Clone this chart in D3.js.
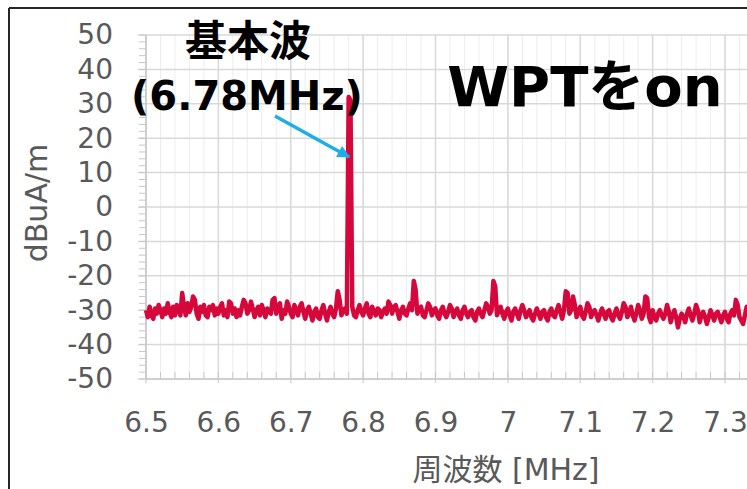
<!DOCTYPE html>
<html>
<head>
<meta charset="utf-8">
<script src="https://cdn.jsdelivr.net/npm/d3@7"></script>
<style>
  body { margin: 0; background: #fff; }
  svg { display: block; }
</style>
</head>
<body>
<div></div>
<script>
// sweep: 6.500 MHz upward, one sample every 2.5 kHz
const freqStart = 6.5;
const freqStep = 0.0025;
// measured level [dBuA/m] per sweep point, 20 points per 0.05 MHz
const levels = [
  -30, -32, -29, -31.5, -32.5, -29.5, -31, -28.5, -30, -32, -29.5, -31, -28, -30.5, -32, -29, -31.5, -28.5, -30, -31.5,
  -25, -29, -31.5, -28, -30.5, -29, -26, -27, -31, -32.5, -29, -30.5, -28.5, -31.5, -32, -29, -30, -28.5, -31.5, -29.5,
  -31, -29, -28, -31.5, -30, -32, -27.5, -28, -31, -29.5, -32, -30, -31.5, -29, -27, -28, -31, -30, -27.5, -29.5,
  -32, -30, -29, -31.5, -28.5, -30, -32, -29.5, -30.5, -31, -27, -26.5, -31, -29, -28, -32.5, -30, -31, -27.5, -29,
  -31, -32, -28.5, -30, -31.5, -29, -28, -30.5, -32.5, -30, -29, -31, -33, -30.5, -29.5, -32, -32.5, -30, -28.5, -31,
  -33, -30.5, -29, -31, -32, -29.5, -24.5, -27, -31.5, -30, -29.5, -31, 32, 31, -29, -31.5, -32, -30, -28.5, -30.5,
  -31.5, -29.5, -28, -31, -32, -29, -30.5, -31.5, -29.5, -30, -32, -30.5, -29.5, -31, -27.5, -28.5, -31, -29, -28.5, -30.5,
  -32.5, -30, -29, -31, -31.5, -29.5, -28, -30, -21.5, -24, -31, -29.5, -29, -31.5, -32, -30, -28, -29, -31.5, -30,
  -29.5, -31.5, -32.5, -30, -29, -31, -32, -30.5, -28.5, -29.5, -32, -30.5, -29.5, -31.5, -32.5, -30, -29, -31, -32, -30.5,
  -30, -32, -33, -30.5, -29.5, -31, -32, -30, -28, -29, -31, -30, -21.5, -23, -31.5, -30, -29, -31, -32.5, -30.5,
  -29.5, -31.5, -33, -30.5, -29.5, -31, -32.5, -30, -28.5, -30, -32, -31, -30, -32, -33, -31, -29.5, -31, -32.5, -30.5,
  -30, -32, -33, -30.5, -29.5, -31.5, -32, -30, -28.5, -30.5, -32.5, -30, -24.5, -25, -31, -30, -26, -28.5, -32, -30.5,
  -29, -31.5, -32.5, -30.5, -28, -29, -32, -30.5, -30, -31.5, -33, -31, -29.5, -31, -32.5, -30.5, -30, -32, -33, -31,
  -29.5, -31.5, -32.5, -30.5, -28, -29, -32, -31, -29, -31.5, -33, -31, -28.5, -30, -32.5, -31, -26, -26.5, -32, -33.5,
  -30, -32, -33, -31, -30, -31.5, -32.5, -31, -28.5, -30.5, -33.5, -31.5, -30, -32, -35, -32.5, -31, -32, -33.5, -31,
  -29.5, -31.5, -33, -31, -28.5, -30, -33.5, -31.5, -30.5, -32, -34, -32, -30, -31.5, -33, -31, -30.5, -32, -33.5, -31.5,
  -30.5, -32.5, -33.5, -31, -30, -31.5, -27, -28.5, -32, -33, -34, -31.5, -29, -30.5, -33
];
const xTicks = [6.5, 6.6, 6.7, 6.8, 6.9, 7, 7.1, 7.2, 7.3];
const yTicks = [50, 40, 30, 20, 10, 0, -10, -20, -30, -40, -50];
const xTitle = "周波数 [MHz]";
const yTitle = "dBuA/m";
const peakLabel = ["基本波", "(6.78MHz)"];
const stateLabel = "WPTをon";

const svgWidth = 747;
const svgHeight = 489;
const svg = d3
  .select("div")
  .append("svg")
  .attr("width", svgWidth)
  .attr("height", svgHeight);

//scales
const xScale = d3.scaleLinear().domain([6.5, 7.3]).range([146, 725]);
const yScale = d3.scaleLinear().domain([-50, 50]).range([379, 35]);
const xMax = xScale.invert(svgWidth);

// outer frame
svg.append("line").attr("x1", 9).attr("x2", svgWidth).attr("y1", 8).attr("y2", 8)
  .attr("stroke", "#262626").attr("stroke-width", 2);
svg.append("line").attr("x1", 9).attr("x2", 9).attr("y1", 8).attr("y2", svgHeight)
  .attr("stroke", "#262626").attr("stroke-width", 2);

// minor vertical grid every 0.02 MHz
const minorX = d3.range(6.5, xMax, 0.02);
svg.append("g")
  .selectAll("line")
  .data(minorX)
  .enter()
  .append("line")
  .attr("x1", (d) => xScale(d))
  .attr("x2", (d) => xScale(d))
  .attr("y1", yScale(50))
  .attr("y2", yScale(-50))
  .attr("stroke", "#ededed")
  .attr("stroke-width", 1);

// major grid
svg.append("g")
  .selectAll("line")
  .data(xTicks)
  .enter()
  .append("line")
  .attr("x1", (d) => xScale(d))
  .attr("x2", (d) => xScale(d))
  .attr("y1", yScale(50))
  .attr("y2", yScale(-50) + 4)
  .attr("stroke", "#d9d9d9")
  .attr("stroke-width", 1.5);
svg.append("g")
  .selectAll("line")
  .data(yTicks)
  .enter()
  .append("line")
  .attr("x1", 138)
  .attr("x2", svgWidth)
  .attr("y1", (d) => yScale(d))
  .attr("y2", (d) => yScale(d))
  .attr("stroke", "#d9d9d9")
  .attr("stroke-width", 1.5);

// minor ticks on axes
svg.append("g")
  .selectAll("line")
  .data(d3.range(-50, 50.1, 2))
  .enter()
  .append("line")
  .attr("x1", 139)
  .attr("x2", 146)
  .attr("y1", (d) => yScale(d))
  .attr("y2", (d) => yScale(d))
  .attr("stroke", "#c8c8c8")
  .attr("stroke-width", 1);
svg.append("g")
  .selectAll("line")
  .data(minorX)
  .enter()
  .append("line")
  .attr("x1", (d) => xScale(d))
  .attr("x2", (d) => xScale(d))
  .attr("y1", yScale(-50) - 7)
  .attr("y2", yScale(-50))
  .attr("stroke", "#c8c8c8")
  .attr("stroke-width", 1);

// axis lines
svg.append("line").attr("x1", xScale(6.5)).attr("x2", xScale(6.5))
  .attr("y1", yScale(50)).attr("y2", yScale(-50)).attr("stroke", "#c8c8c8").attr("stroke-width", 1.5);
svg.append("line").attr("x1", xScale(6.5)).attr("x2", svgWidth)
  .attr("y1", yScale(-50)).attr("y2", yScale(-50)).attr("stroke", "#c8c8c8").attr("stroke-width", 1.5);

// tick labels through d3 axes
const xAxis = svg.append("g")
  .attr("transform", `translate(0,${yScale(-50)})`)
  .call(d3.axisBottom(xScale).tickValues(xTicks).tickFormat((d) => String(d)).tickSize(0).tickPadding(33));
const yAxis = svg.append("g")
  .attr("transform", `translate(${xScale(6.5)},0)`)
  .call(d3.axisLeft(yScale).tickValues(yTicks).tickFormat((d) => String(d)).tickSize(0).tickPadding(33));
[xAxis, yAxis].forEach((ax) => {
  ax.select(".domain").remove();
  ax.selectAll("text")
    .attr("fill", "#595959")
    .style("font-family", "'DejaVu Sans', Verdana, sans-serif")
    .style("font-size", "28px");
});

// axis titles
svg.append("text")
  .attr("x", 506)
  .attr("y", 480)
  .attr("text-anchor", "middle")
  .attr("fill", "#595959")
  .style("font-family", "'DejaVu Sans', 'Noto Sans CJK JP', sans-serif")
  .style("font-size", "30px")
  .text(xTitle);
svg.append("text")
  .attr("transform", "translate(47,203) rotate(-90)")
  .attr("text-anchor", "middle")
  .attr("fill", "#595959")
  .style("font-family", "'DejaVu Sans', sans-serif")
  .style("font-size", "30px")
  .text(yTitle);

// spectrum line
const line = d3
  .line()
  .x((d, i) => xScale(freqStart + i * freqStep))
  .y((d) => yScale(d));
svg.append("path")
  .datum(levels)
  .attr("d", line)
  .attr("fill", "none")
  .attr("stroke", "#d5073b")
  .attr("stroke-width", 4.5)
  .attr("stroke-linejoin", "round");

// annotations
svg.append("text")
  .attr("x", 248)
  .attr("y", 56)
  .attr("text-anchor", "middle")
  .style("font-family", "'Noto Sans CJK JP', sans-serif")
  .style("font-weight", "bold")
  .style("font-size", "42px")
  .text(peakLabel[0]);
svg.append("text")
  .attr("x", 247)
  .attr("y", 110)
  .attr("text-anchor", "middle")
  .style("font-family", "'DejaVu Sans', sans-serif")
  .style("font-weight", "bold")
  .style("font-size", "40px")
  .text(peakLabel[1]);
svg.append("text")
  .attr("x", 585)
  .attr("y", 106)
  .attr("text-anchor", "middle")
  .style("font-family", "'DejaVu Sans', 'Noto Sans CJK JP', sans-serif")
  .style("font-weight", "bold")
  .style("font-size", "56px")
  .text(stateLabel);

// arrow pointing at the fundamental
svg.append("defs")
  .append("marker")
  .attr("id", "arrowhead")
  .attr("viewBox", "0 0 10 10")
  .attr("refX", 9)
  .attr("refY", 5)
  .attr("markerWidth", 4)
  .attr("markerHeight", 3.6)
  .attr("markerUnits", "strokeWidth")
  .attr("orient", "auto")
  .append("path")
  .attr("d", "M0,0L10,5L0,10Z")
  .attr("fill", "#1eaee6");
svg.append("line")
  .attr("x1", 275)
  .attr("y1", 116)
  .attr("x2", 349)
  .attr("y2", 157)
  .attr("stroke", "#1eaee6")
  .attr("stroke-width", 3.5)
  .attr("marker-end", "url(#arrowhead)");
</script>
</body>
</html>
